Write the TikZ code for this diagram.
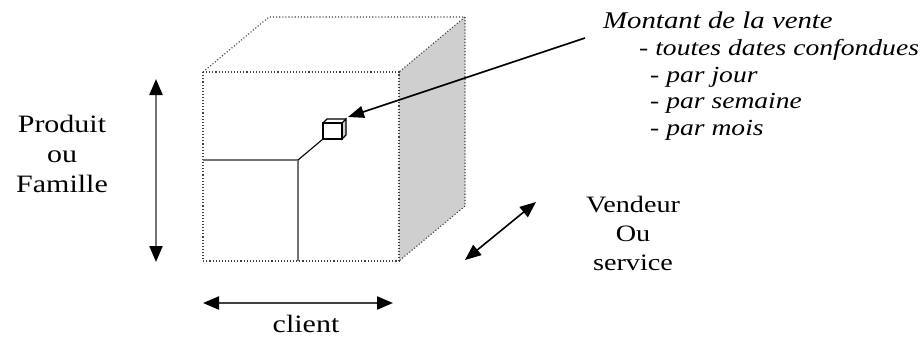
\documentclass[tikz,border=0pt]{standalone}
\usepackage{fontspec}
\setmainfont{Liberation Serif}[FakeStretch=1.2]
\usetikzlibrary{arrows.meta}
\begin{document}
\begin{tikzpicture}[x=1pt,y=-1pt,
  edge/.style={dotted,draw=black!75,line width=1.1pt},
  split/.style={draw=black!55,line width=1.4pt},
  cubeline/.style={draw=black,line width=1.1pt},
  tipshape/.style={},
  bigtip/.style={-{Triangle[length=16pt,width=12pt,color=black]}},
  dbltip/.style={{Triangle[length=16pt,width=13pt,color=black]}-{Triangle[length=16pt,width=13pt,color=black]}},
  lbl/.style={font=\fontsize{25}{30}\selectfont,align=center,inner sep=0pt},
  ital/.style={font=\fontsize{23}{26.7}\selectfont\itshape,align=left,inner sep=0pt}]
\useasboundingbox (0,0) rectangle (922,338);
% big cube
\coordinate (A) at (203,72);
\coordinate (B) at (399,72);
\coordinate (C) at (399,261);
\coordinate (D) at (203,261);
\coordinate (E) at (269,17);
\coordinate (F) at (465,17);
\coordinate (G) at (465,206);
\fill[gray!38] (B) -- (F) -- (G) -- (C) -- cycle;
\draw[edge] (A) -- (B) -- (C) -- (D) -- cycle;
\draw[edge] (A) -- (E) -- (F) -- (B);
\draw[edge] (F) -- (G) -- (C);
% splits
\coordinate (S1) at (203,160);
\coordinate (S2) at (298,160);
\coordinate (S3) at (298,261);
\draw[split] (S1) -- (S2) -- (S3);
% small cube
\coordinate (c1) at (323,139);
\coordinate (c2) at (342,139);
\coordinate (c3) at (342,123);
\coordinate (c4) at (323,123);
\coordinate (c5) at (327,119);
\coordinate (c6) at (346,119);
\coordinate (c7) at (346,135);
\filldraw[cubeline,fill=gray!35] (c3) -- (c6) -- (c7) -- (c2) -- cycle;
\draw[cubeline] (c1) rectangle (c3);
\draw[cubeline] (c4) -- (c5) -- (c6);
\draw[line width=1.1pt] (S2) -- (c1);
% labels
\node[font=\fontsize{24}{28}\selectfont\itshape,anchor=base west,inner sep=0pt] (title) at (603,28) {Montant de la vente};
\node[ital,anchor=base west] (l1) at (639,55) {- toutes dates confondues};
\node[ital,anchor=base west] (l2) at (650,82) {- par jour};
\node[ital,anchor=base west] (l3) at (650,108) {- par semaine};
\node[ital,anchor=base west] (l4) at (650,135) {- par mois};
\coordinate (tail) at (585,38);
\coordinate (cell) at (348,117);
\draw[bigtip,line width=1.6pt] (tail) -- (cell);
\node[lbl,anchor=base] (prod) at (62,192) {Produit\\ou\\Famille};
\node[lbl,anchor=base,font=\fontsize{23.5}{29}\selectfont] (vend) at (633,270) {Vendeur\\Ou\\service};
\node[lbl,anchor=base] (cli) at (306,332) {client};
\coordinate (vt) at (156,79);
\coordinate (vb) at (156,262);
\draw[dbltip,draw=black!55,line width=2.2pt] (vt) -- (vb);
\coordinate (hl) at (203,303);
\coordinate (hr) at (393,303);
\draw[dbltip,draw=black!75,line width=2.2pt] (hl) -- (hr);
\coordinate (dl) at (465,260);
\coordinate (dr) at (536,202);
\draw[dbltip,line width=1.6pt] (dl) -- (dr);
\end{tikzpicture}
\end{document}
